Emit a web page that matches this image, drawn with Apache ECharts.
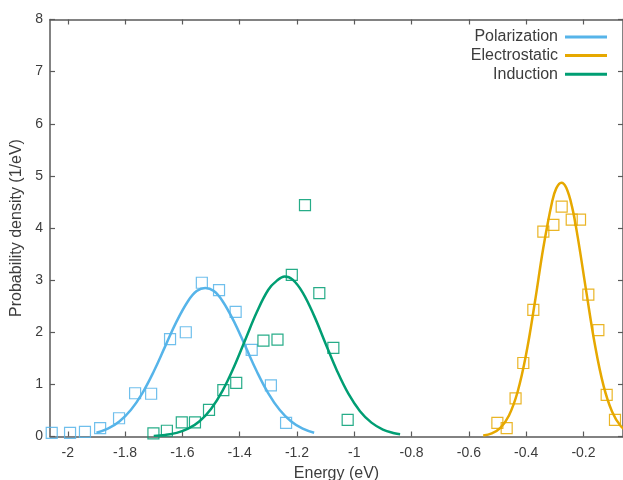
<!DOCTYPE html>
<html>
<head>
<meta charset="utf-8">
<script src="https://cdn.jsdelivr.net/npm/echarts@6/dist/echarts.min.js"></script>
<style>html,body{margin:0;padding:0;background:#fff;}#c{width:623px;height:480px;}</style>
</head>
<body>
<div id="c"></div>
<script>
// x tick labels
const xTicks = [-2, -1.8, -1.6, -1.4, -1.2, -1, -0.8, -0.6, -0.4, -0.2];

// Histogram points (squares)
const polPtX = [-2.056, -1.992, -1.94, -1.887, -1.821, -1.765, -1.709, -1.643, -1.588, -1.532, -1.472, -1.414, -1.358, -1.291, -1.238];
const polPtY = [0.07, 0.07, 0.09, 0.16, 0.35, 0.83, 0.82, 1.87, 2.0, 2.95, 2.81, 2.39, 1.66, 0.98, 0.26];

const indPtX = [-1.701, -1.654, -1.602, -1.556, -1.507, -1.457, -1.412, -1.317, -1.268, -1.218, -1.172, -1.122, -1.073, -1.023];
const indPtY = [0.06, 0.11, 0.27, 0.27, 0.51, 0.89, 1.03, 1.84, 1.86, 3.1, 4.44, 2.75, 1.70, 0.32];

const elePtX = [-0.5005, -0.468, -0.437, -0.41, -0.375, -0.34, -0.305, -0.276, -0.241, -0.212, -0.183, -0.148, -0.119, -0.09];
const elePtY = [0.26, 0.16, 0.73, 1.41, 2.43, 3.93, 4.06, 4.41, 4.16, 4.16, 2.72, 2.04, 0.80, 0.32];

// Fitted curves
const polCurveX = [-1.90, -1.86, -1.82, -1.78, -1.74, -1.70, -1.66, -1.62, -1.58, -1.55, -1.52, -1.49, -1.46, -1.42, -1.38, -1.34, -1.30, -1.26, -1.22, -1.18, -1.14];
const polCurveY = [0.072, 0.149, 0.287, 0.508, 0.829, 1.247, 1.729, 2.208, 2.600, 2.790, 2.850, 2.790, 2.600, 2.208, 1.729, 1.247, 0.829, 0.508, 0.287, 0.149, 0.072];

const indCurveX = [-1.70, -1.66, -1.62, -1.58, -1.54, -1.50, -1.46, -1.42, -1.38, -1.34, -1.30, -1.27, -1.243, -1.215, -1.18, -1.14, -1.10, -1.06, -1.02, -0.98, -0.94, -0.90, -0.86, -0.84];
const indCurveY = [0.012, 0.030, 0.070, 0.149, 0.293, 0.529, 0.876, 1.333, 1.862, 2.389, 2.816, 2.990, 3.070, 3.010, 2.762, 2.314, 1.781, 1.258, 0.816, 0.486, 0.266, 0.134, 0.062, 0.041];

const eleCurveX = [-0.55, -0.52, -0.49, -0.46, -0.43, -0.40, -0.37, -0.34, -0.31, -0.295, -0.277, -0.26, -0.24, -0.22, -0.19, -0.16, -0.13, -0.10, -0.07, -0.04];
const eleCurveY = [0.019, 0.060, 0.167, 0.404, 0.854, 1.581, 2.560, 3.626, 4.491, 4.760, 4.870, 4.770, 4.410, 3.825, 2.774, 1.760, 0.976, 0.474, 0.201, 0.075];

const seriesNames = ['Polarization', 'Electrostatic', 'Induction'];
const colors = { Polarization: '#56b4e9', Electrostatic: '#e6a800', Induction: '#009e73' };

const zip = (xs, ys) => xs.map((x, i) => [x, ys[i]]);

const font = 'Liberation Sans, Arial, sans-serif';
const axisColor = '#5a5a5a';
const textColor = '#3c3c3c';

function pointSeries(name, xs, ys) {
  return {
    name: name + ' data',
    type: 'scatter',
    data: zip(xs, ys),
    symbol: 'rect',
    symbolSize: 11,
    itemStyle: { color: 'rgba(0,0,0,0)', borderColor: colors[name], borderWidth: 1.2, opacity: 0.85 },
    z: 3
  };
}
function curveSeries(name, xs, ys) {
  return {
    name: name,
    type: 'line',
    data: zip(xs, ys),
    smooth: 0.4,
    showSymbol: false,
    symbol: 'none',
    color: colors[name],
    lineStyle: { color: colors[name], width: 2.5 },
    z: 4
  };
}

const xMin = -2.062, xMax = -0.062;

const chart = echarts.init(document.getElementById('c'), null, { renderer: 'canvas' });
chart.setOption({
  animation: false,
  backgroundColor: '#fff',
  grid: { left: 50, right: 0, top: 19.5, bottom: 43.5, containLabel: false, outerBoundsMode: 'none' },
  legend: {
    data: seriesNames,
    orient: 'vertical',
    right: 11,
    top: 24,
    align: 'right',
    icon: 'rect',
    itemWidth: 42,
    itemHeight: 3,
    itemGap: 2.6,
    textStyle: { fontFamily: font, fontSize: 16, color: textColor, padding: [0, 2, 0, 0] },
    selectedMode: false
  },
  xAxis: [
    {
      type: 'value', position: 'bottom', min: xMin, max: xMax,
      name: 'Energy (eV)', nameLocation: 'middle', nameGap: 29,
      nameTextStyle: { fontFamily: font, fontSize: 16, color: textColor },
      axisLine: { show: true, onZero: false, lineStyle: { color: axisColor, width: 1.5 } },
      axisTick: { show: true, inside: true, length: 5, customValues: xTicks, lineStyle: { color: axisColor, width: 1.2 } },
      axisLabel: { show: true, customValues: xTicks, margin: 10, fontFamily: font, fontSize: 14, color: textColor, formatter: v => String(v) },
      splitLine: { show: false }
    },
    {
      type: 'value', position: 'top', min: xMin, max: xMax,
      axisLine: { show: true, onZero: false, lineStyle: { color: axisColor, width: 1.5 } },
      axisTick: { show: true, inside: true, length: 5, customValues: xTicks, lineStyle: { color: axisColor, width: 1.2 } },
      axisLabel: { show: false },
      splitLine: { show: false }
    }
  ],
  yAxis: [
    {
      type: 'value', position: 'left', min: 0, max: 8, interval: 1,
      name: 'Probability density (1/eV)', nameLocation: 'middle', nameGap: 25, nameRotate: 90,
      nameTextStyle: { fontFamily: font, fontSize: 16, color: textColor },
      axisLine: { show: true, onZero: false, lineStyle: { color: axisColor, width: 1.5 } },
      axisTick: { show: true, inside: true, length: 5, lineStyle: { color: axisColor, width: 1.2 } },
      axisLabel: { margin: 7, fontFamily: font, fontSize: 14, color: textColor },
      splitLine: { show: false }
    },
    {
      type: 'value', position: 'right', min: 0, max: 8, interval: 1,
      axisLine: { show: true, onZero: false, lineStyle: { color: axisColor, width: 1.5 } },
      axisTick: { show: true, inside: true, length: 5, lineStyle: { color: axisColor, width: 1.2 } },
      axisLabel: { show: false },
      splitLine: { show: false }
    }
  ],
  series: [
    pointSeries('Polarization', polPtX, polPtY),
    pointSeries('Electrostatic', elePtX, elePtY),
    pointSeries('Induction', indPtX, indPtY),
    curveSeries('Polarization', polCurveX, polCurveY),
    curveSeries('Electrostatic', eleCurveX, eleCurveY),
    curveSeries('Induction', indCurveX, indCurveY)
  ]
});
</script>
</body>
</html>
